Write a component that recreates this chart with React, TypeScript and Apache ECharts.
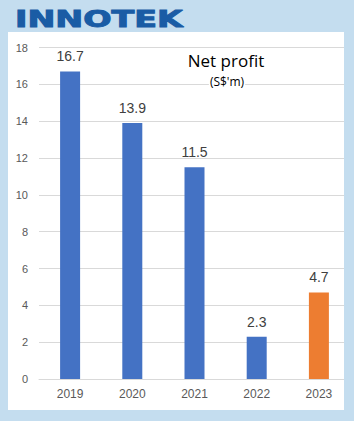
import React, { useEffect, useRef } from "react";
import * as echarts from "echarts";

const years = ["2019", "2020", "2021", "2022", "2023"];
const netProfit = [16.7, 13.9, 11.5, 2.3, 4.7];
const barColors = ["#4472c4", "#4472c4", "#4472c4", "#4472c4", "#ed7d31"];
const yTicks = { min: 0, max: 18, interval: 2 };

const BG = "#c4ddef";

export default function App() {
  const ref = useRef<HTMLDivElement>(null);
  useEffect(() => {
    if (!ref.current) return;
    const chart = echarts.init(ref.current, null, { renderer: "svg" });
    chart.setOption({
      animation: false,
      backgroundColor: "transparent",
      grid: { left: 39, right: 4, top: 47.5, bottom: 42 },
      xAxis: {
        type: "category",
        data: years,
        axisLine: { show: true, lineStyle: { color: "#d9d9d9", width: 1 } },
        axisTick: { show: false },
        axisLabel: { color: "#595959", fontSize: 12, fontFamily: "Liberation Sans", margin: 9 },
      },
      yAxis: {
        type: "value",
        min: yTicks.min,
        max: yTicks.max,
        interval: yTicks.interval,
        axisLine: { show: false },
        axisTick: { show: false },
        splitLine: { lineStyle: { color: "#d9d9d9", width: 1 } },
        axisLabel: { color: "#595959", fontSize: 11, fontFamily: "Liberation Sans", margin: 11 },
      },
      series: [
        {
          type: "bar",
          barWidth: 20,
          data: netProfit.map((v, i) => ({ value: v, itemStyle: { color: barColors[i] } })),
          label: {
            show: true,
            position: "top",
            distance: 8,
            color: "#404040",
            fontSize: 14,
            fontFamily: "Liberation Sans",
          },
        },
      ],
      graphic: [
        {
          type: "rect",
          z: 100,
          shape: { x: 344, y: 0, width: 10, height: 421 },
          style: { fill: BG },
        },
        {
          type: "text",
          x: 15,
          y: 7,
          scaleX: 1.45,
          style: {
            text: "INNOTEK",
            fontFamily: "DejaVu Sans",
            fontWeight: "bold",
            fontSize: 23,
            fill: "#1a5ca5",
            stroke: "#1a5ca5",
            lineWidth: 1,
            textAlign: "left",
            textVerticalAlign: "top",
          },
        },
        {
          type: "text",
          x: 226,
          y: 60,
          z: 50,
          style: {
            text: "Net profit",
            fontFamily: "Open Sans",
            fontSize: 17,
            fill: "#000000",
            textAlign: "center",
            textVerticalAlign: "middle",
          },
        },
        {
          type: "text",
          x: 227,
          y: 81,
          z: 50,
          style: {
            text: "(S$'m)",
            fontFamily: "Open Sans",
            fontSize: 12,
            fill: "#000000",
            backgroundColor: "#ffffff",
            padding: [0, 1],
            textAlign: "center",
            textVerticalAlign: "middle",
          },
        },
      ],
    });
    return () => chart.dispose();
  }, []);

  return (
    <div style={{ position: "absolute", left: 0, top: 0, width: 354, height: 421, background: BG }}>
      <div style={{ position: "absolute", left: 8, top: 32, width: 336, height: 378, background: "#ffffff" }} />
      <div ref={ref} style={{ position: "absolute", left: 0, top: 0, width: 354, height: 421 }} />
    </div>
  );
}
